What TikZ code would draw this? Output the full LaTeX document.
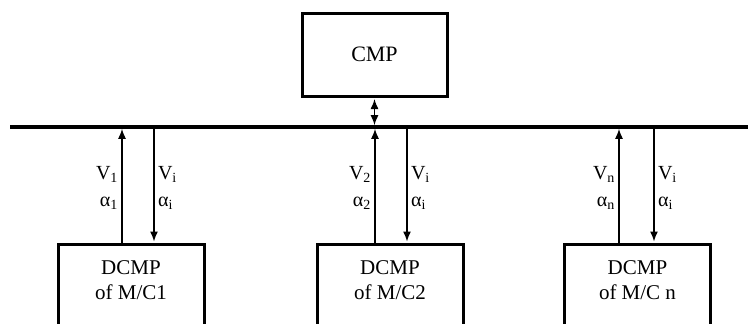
\documentclass[tikz,border=0pt]{standalone}
\usepackage{fontspec}
\setmainfont{Liberation Serif}
\usetikzlibrary{arrows.meta,positioning}

\tikzset{
  unitbox/.style={draw,line width=3pt,minimum width=146pt,align=center,anchor=north,
    inner ysep=16pt,text depth=40pt,font=\fontsize{21}{25}\selectfont},
  sig/.style={line width=1.4pt,font=\fontsize{20}{27}\selectfont}
}

\begin{document}
\begin{tikzpicture}[x=1pt,y=-1pt,>={Latex[length=10pt,width=8pt]}]
  \path[use as bounding box,clip] (0,0) rectangle (748,324);
  \node[draw,line width=3pt,minimum width=145pt,minimum height=83pt,font=\fontsize{22}{25}\selectfont] (cmp) at (374.5,54.5) {CMP};
  % bus
  \coordinate (busL) at (10,127);
  \coordinate (busR) at (748,127);
  \draw[line width=3.5pt] (busL) -- (busR);
  \draw[<->,line width=1.4pt,shorten <=1.5pt,shorten >=1.8pt] (cmp.south) -- (cmp.south |- busL);
  % local modules
  \node[unitbox] (mc1) at (131,243) {DCMP\\of M/C1};
  \node[unitbox] (mc2) at (390,243) {DCMP\\of M/C2};
  \node[unitbox] (mcn) at (637.5,243) {DCMP\\of M/C n};
  \coordinate (up1) at (122,127);
  \coordinate (dn1) at (154,127);
  \coordinate (up2) at (375,127);
  \coordinate (dn2) at (407,127);
  \coordinate (upn) at (619,127);
  \coordinate (dnn) at (654,127);
  \draw[sig,->,shorten >=1.8pt] (up1 |- mc1.north) -- (up1) node[midway,left,align=right,yshift=-3pt] {V\textsubscript{1}\\α\textsubscript{1}};
  \draw[sig,->,shorten <=1.8pt,shorten >=1.5pt] (dn1) -- (dn1 |- mc1.north) node[midway,right,align=left,yshift=-3pt] {V\textsubscript{i}\\α\textsubscript{i}};
  \draw[sig,->,shorten >=1.8pt] (up2 |- mc2.north) -- (up2) node[midway,left,align=right,yshift=-3pt] {V\textsubscript{2}\\α\textsubscript{2}};
  \draw[sig,->,shorten <=1.8pt,shorten >=1.5pt] (dn2) -- (dn2 |- mc2.north) node[midway,right,align=left,yshift=-3pt] {V\textsubscript{i}\\α\textsubscript{i}};
  \draw[sig,->,shorten >=1.8pt] (upn |- mcn.north) -- (upn) node[midway,left,align=right,yshift=-3pt] {V\textsubscript{n}\\α\textsubscript{n}};
  \draw[sig,->,shorten <=1.8pt,shorten >=1.5pt] (dnn) -- (dnn |- mcn.north) node[midway,right,align=left,yshift=-3pt] {V\textsubscript{i}\\α\textsubscript{i}};
\end{tikzpicture}
\end{document}
